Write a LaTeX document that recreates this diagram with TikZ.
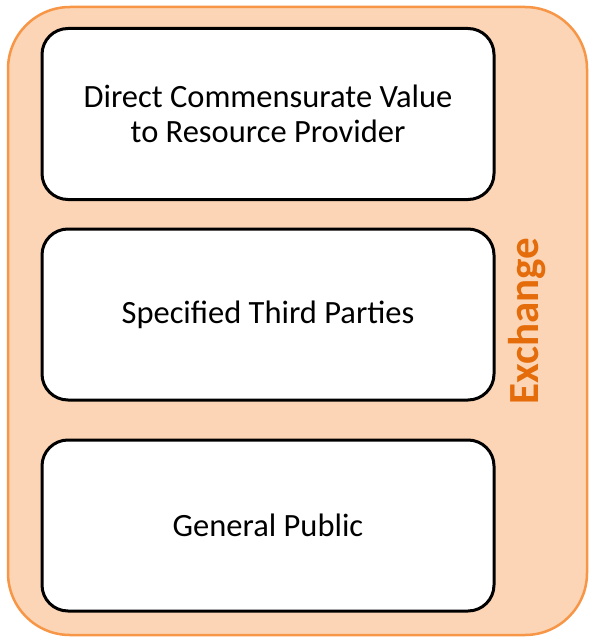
\documentclass[tikz,border=0pt]{standalone}
\usepackage{fontspec}
\setmainfont{Carlito}
\definecolor{peach}{HTML}{FBD5B5}
\definecolor{orangeedge}{HTML}{F79646}
\definecolor{orangetext}{HTML}{E46C0A}
\begin{document}
\begin{tikzpicture}[x=1pt,y=-1pt,
  outerbox/.style={draw=orangeedge,fill=peach,line width=2.5pt,rounded corners=62pt},
  itembox/.style={draw=black,fill=white,line width=3pt,rounded corners=26pt,
    minimum width=452pt,minimum height=171pt,align=center,
    font=\fontsize{32.5}{35}\selectfont,inner sep=0pt},
  sidelabel/.style={text=orangetext,font=\fontsize{43}{48}\selectfont\bfseries,rotate=90}]
\useasboundingbox (0,0) rectangle (590,639);
\draw[outerbox] (8,7) rectangle (587,635);
\node[itembox] (b1) at (268,114) {Direct Commensurate Value\\to Resource Provider};
\node[itembox] (b2) at (268,314.5) {Specified Third Parties};
\node[itembox] (b3) at (268,525.5) {General Public};
\node[sidelabel] (ex) at (527,321) {Exchange};
\end{tikzpicture}
\end{document}
